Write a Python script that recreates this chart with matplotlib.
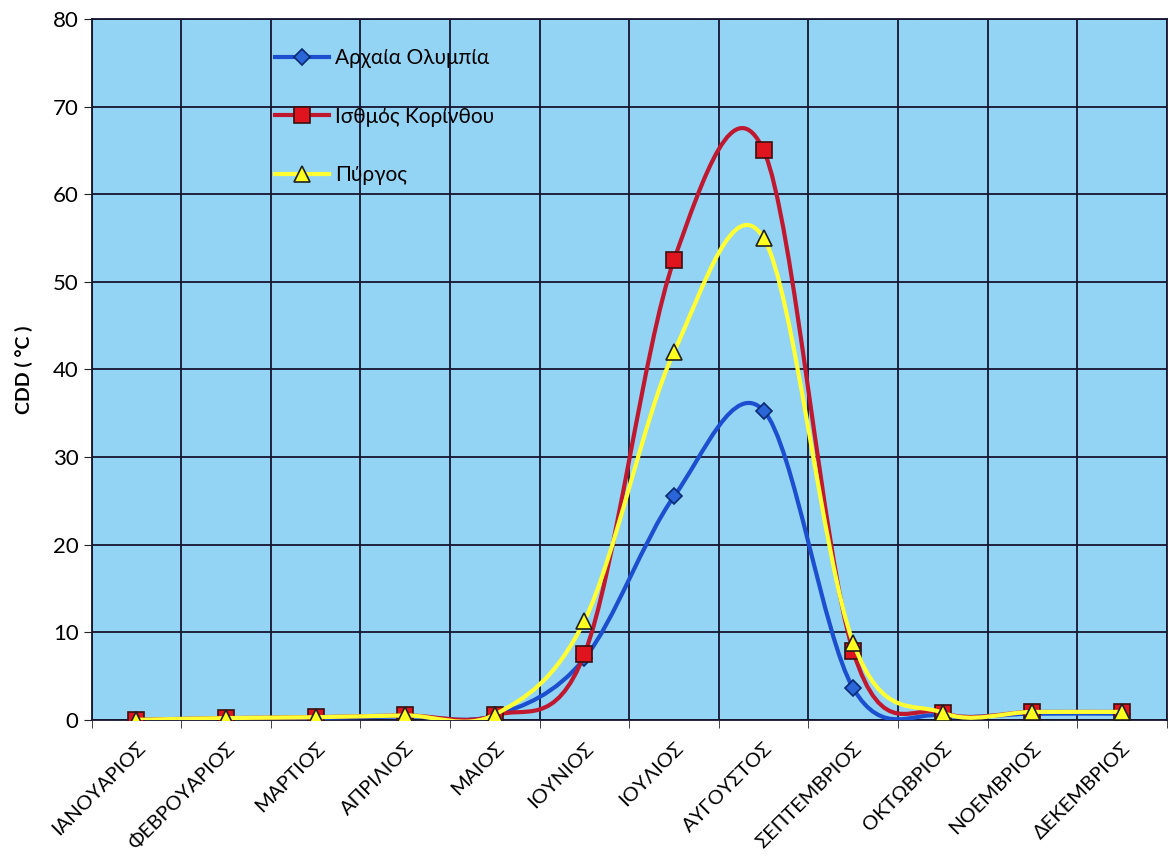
import numpy as np
import matplotlib
matplotlib.use('Agg')
import matplotlib.pyplot as plt
from matplotlib.path import Path
from matplotlib.patches import PathPatch
from matplotlib.lines import Line2D

plt.rcParams['font.family'] = ['Lato', 'Noto Sans', 'DejaVu Sans']

# data
months = ['ΙΑΝΟΥΑΡΙΟΣ', 'ΦΕΒΡΟΥΑΡΙΟΣ', 'ΜΑΡΤΙΟΣ', 'ΑΠΡΙΛΙΟΣ', 'ΜΑΙΟΣ', 'ΙΟΥΝΙΟΣ',
          'ΙΟΥΛΙΟΣ', 'ΑΥΓΟΥΣΤΟΣ', 'ΣΕΠΤΕΜΒΡΙΟΣ', 'ΟΚΤΩΒΡΙΟΣ', 'ΝΟΕΜΒΡΙΟΣ', 'ΔΕΚΕΜΒΡΙΟΣ']
olympia = [0.0, 0.1, 0.2, 0.4, 0.5, 7.0, 25.5, 35.3, 3.6, 0.5, 0.7, 0.7]
korinthos = [0.0, 0.2, 0.3, 0.5, 0.5, 7.5, 52.5, 65.0, 7.8, 0.8, 0.9, 0.9]
pyrgos = [0.0, 0.2, 0.3, 0.5, 0.6, 11.3, 42.0, 55.0, 8.8, 0.8, 0.9, 0.9]

names = ['Αρχαία Ολυμπία', 'Ισθμός Κορίνθου', 'Πύργος']
line_cols = ['#1c4fd0', '#c0182e', '#ffff33']
face_cols = ['#2a66d8', '#e0141e', '#ffff20']
edge_cols = ['#0a2a70', '#3a1010', '#202020']
markers = ['D', 's', '^']
msizes = [8, 12, 12]


def smooth_path(x, y):
    # excel-style smoothed line as cubic bezier segments
    pts = np.column_stack([x, y]).astype(float)
    n = len(pts)
    verts = [pts[0]]
    codes = [Path.MOVETO]
    for i in range(n - 1):
        p0 = pts[i - 1] if i > 0 else pts[i]
        p1 = pts[i]
        p2 = pts[i + 1]
        p3 = pts[i + 2] if i + 2 < n else pts[i + 1]
        c1 = p1 + (p2 - p0) / 6.0
        c2 = p2 - (p3 - p1) / 6.0
        verts += [c1, c2, p2]
        codes += [Path.CURVE4] * 3
    return Path(verts, codes)


fig = plt.figure(figsize=(11.75, 8.6), dpi=100)
ax = fig.add_axes([0.078, 0.163, 0.915, 0.815])
ax.set_facecolor('#93d4f4')

x = np.arange(len(months))
series = [olympia, korinthos, pyrgos]
handles = []
for k, vals in enumerate(series):
    ax.add_patch(PathPatch(smooth_path(x, vals), facecolor='none',
                           edgecolor=line_cols[k], lw=3, zorder=3 + k))
    ax.plot(x, vals, linestyle='none', marker=markers[k], ms=msizes[k],
            mfc=face_cols[k], mec=edge_cols[k], mew=1.2, zorder=3.5 + k)
    handles.append(Line2D([], [], color=line_cols[k], lw=3, marker=markers[k],
                          ms=msizes[k], mfc=face_cols[k], mec=edge_cols[k], mew=1.2))

ax.set_xlim(-0.5, len(months) - 0.5)
ax.set_ylim(0, 80)
ax.set_yticks(np.arange(0, 81, 10))
ax.set_xticks(x)
ax.set_xticklabels(months, rotation=45, ha='right', rotation_mode='anchor', fontsize=14.5)
ax.set_xticks(np.arange(-0.5, len(months), 1), minor=True)
ax.tick_params(axis='x', which='major', length=0, pad=14)
ax.tick_params(axis='x', which='minor', length=6, color='#222222')
ax.tick_params(axis='y', labelsize=16, length=6, color='#222222')
ax.grid(True, axis='y', which='major', color='#151530', lw=1.3)
ax.grid(True, axis='x', which='minor', color='#151530', lw=1.3)
ax.set_axisbelow(True)
for s in ax.spines.values():
    s.set_color('#151530')
    s.set_linewidth(1.3)

ax.set_ylabel('CDD ( °C )', fontsize=14, fontweight='bold', labelpad=14)

ax.legend(handles, names, loc='upper left', bbox_to_anchor=(0.153, 0.985),
          frameon=False, fontsize=15, labelspacing=1.85, handlelength=2.6,
          handletextpad=0.3)

fig.savefig('out.png', dpi=100)
